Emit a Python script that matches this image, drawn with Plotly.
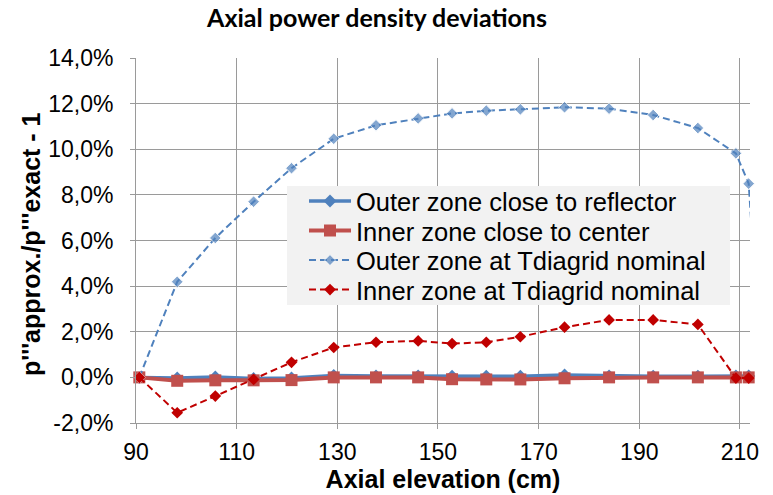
import plotly.graph_objects as go

# ---- data ----
elevation_cm = [90.66, 98.19, 105.76, 113.37, 120.9, 129.29, 137.69, 146.06, 152.8,
                159.6, 166.37, 175.15, 184.0, 192.76, 201.64, 209.2, 211.74]
outer_reflector = [0.0, -0.03, 0.02, -0.05, -0.03, 0.08, 0.06, 0.06, 0.05,
                   0.05, 0.05, 0.10, 0.06, 0.05, 0.05, 0.06, 0.06]
inner_center = [0.0, -0.15, -0.13, -0.13, -0.12, 0.0, 0.0, 0.0, -0.08,
                -0.09, -0.09, -0.04, 0.0, 0.0, 0.0, 0.0, 0.0]
# outer zone at Tdiagrid nominal continues past the right edge of the axis
elevation_outer_nom = elevation_cm + [214.3]
outer_nominal = [0.0, 4.19, 6.11, 7.70, 9.17, 10.46, 11.05, 11.35, 11.57,
                 11.69, 11.75, 11.84, 11.78, 11.50, 10.93, 9.82, 8.49, 0.0]
inner_nominal = [0.0, -1.55, -0.82, -0.09, 0.66, 1.31, 1.54, 1.60, 1.48,
                 1.54, 1.78, 2.20, 2.52, 2.52, 2.32, -0.03, -0.03]

series_names = ["Outer zone close to reflector", "Inner zone close to center",
                "Outer zone at Tdiagrid nominal", "Inner zone at Tdiagrid nominal"]
x_ticks = [90, 110, 130, 150, 170, 190, 210]
y_ticks = [-2, 0, 2, 4, 6, 8, 10, 12, 14]
y_tick_labels = ["-2,0%", "0,0%", "2,0%", "4,0%", "6,0%", "8,0%", "10,0%", "12,0%", "14,0%"]
y_title = "p'''approx./p'''exact - 1"

# ---- layout geometry (pixels) ----
W, H = 773, 495
L, R, T, B = 136, 23, 58, 72
PW, PH = W - L - R, H - T - B


def px(xp):
    return (xp - L) / PW


def py(yp):
    return (H - B - yp) / PH


BLUE = "#4F81BD"
RED = "#C0504D"
DRED = "#C00000"
GRID = "#9A9A9A"
FONT = "Liberation Sans, Arial, sans-serif"

fig = go.Figure()
fig.add_trace(go.Scatter(
    x=elevation_cm, y=outer_reflector, name=series_names[0], mode="lines+markers",
    line=dict(color=BLUE, width=3.5), marker=dict(symbol="diamond", size=10, color=BLUE),
    cliponaxis=False, legend="legend"))
fig.add_trace(go.Scatter(
    x=elevation_cm, y=inner_center, name=series_names[1], mode="lines+markers",
    line=dict(color=RED, width=4), marker=dict(symbol="square", size=12, color=RED),
    cliponaxis=False, legend="legend2"))
fig.add_trace(go.Scatter(
    x=elevation_outer_nom, y=outer_nominal, name=series_names[2], mode="lines+markers",
    line=dict(color=BLUE, width=2, dash="7px,4px"),
    marker=dict(symbol="diamond", size=[9] * len(elevation_cm) + [0], color=BLUE),
    cliponaxis=False, legend="legend3"))
fig.add_trace(go.Scatter(
    x=elevation_cm, y=inner_nominal, name=series_names[3], mode="lines+markers",
    line=dict(color=DRED, width=2, dash="7px,4px"), marker=dict(symbol="diamond", size=9, color=DRED),
    cliponaxis=False, legend="legend4"))

legend_rows = [201.5, 231, 260.5, 290]
legend_common = dict(font=dict(family=FONT, size=25.5, color="#000000"),
                     bgcolor="rgba(0,0,0,0)", borderwidth=0, xanchor="left",
                     yanchor="middle", itemwidth=42, tracegroupgap=0)
legends = {}
for i, yr in enumerate(legend_rows):
    key = "legend" if i == 0 else f"legend{i + 1}"
    legends[key] = dict(legend_common, x=px(304), y=py(yr))

fig.update_layout(
    width=W, height=H,
    margin=dict(l=L, r=R, t=T, b=B, pad=0, autoexpand=False),
    paper_bgcolor="white", plot_bgcolor="white",
    showlegend=True,
    title=dict(text="<b>Axial power density deviations</b>", x=377 / W, xanchor="center",
               y=1 - 18 / H, yanchor="middle", xref="container",
               font=dict(family="Lato, Open Sans, sans-serif", size=25, color="#000000")),
    xaxis=dict(range=[90, 212], tickvals=x_ticks, showgrid=True, gridcolor=GRID, gridwidth=1,
               showline=True, linecolor=GRID, linewidth=1, ticks="outside", ticklen=5,
               tickcolor=GRID, zeroline=False, ticklabelstandoff=3, automargin=True,
               tickfont=dict(family=FONT, size=23, color="#000000"),
               title=dict(text="<b>Axial elevation (cm)</b>", standoff=4,
                          font=dict(family=FONT, size=25, color="#000000"))),
    yaxis=dict(range=[-2, 14], tickvals=y_ticks, ticktext=y_tick_labels,
               showgrid=True, gridcolor=GRID, gridwidth=1, showline=True, linecolor=GRID,
               linewidth=1, ticks="outside", ticklen=5, tickcolor=GRID, zeroline=False,
               ticklabelstandoff=12, automargin=True,
               tickfont=dict(family=FONT, size=23, color="#000000")),
    annotations=[dict(text=f"<b>{y_title}</b>", xref="paper", yref="paper",
                      x=px(31), y=py(244), xanchor="center", yanchor="middle",
                      textangle=-90, showarrow=False,
                      font=dict(family=FONT, size=25, color="#000000"))],
    shapes=[dict(type="rect", xref="paper", yref="paper", x0=px(287), x1=px(730),
                 y0=py(305), y1=py(186), fillcolor="#F2F2F2", line=dict(width=0),
                 layer="above")],
    **legends,
)

fig.write_html("out.html")
